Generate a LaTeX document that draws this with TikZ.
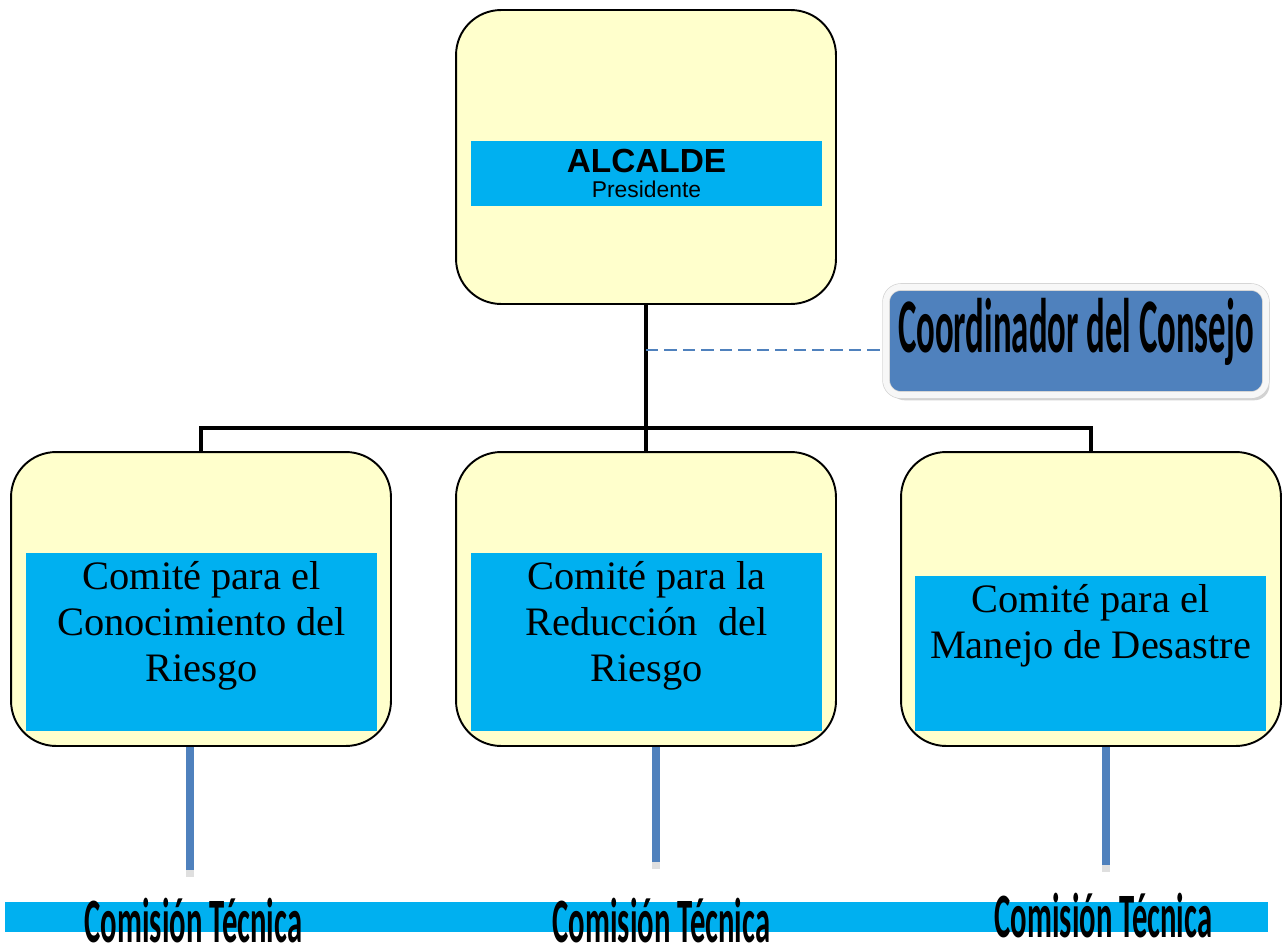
\documentclass[tikz,border=0pt]{standalone}
\usepackage{fontspec}
\setmainfont{Liberation Serif}
\newfontfamily\arialfont{Liberation Sans}
\newfontfamily\titlefont{Carlito}
\usepackage{tikz}
\usetikzlibrary{positioning,shadows}
\definecolor{paleyellow}{HTML}{FFFFCC}
\definecolor{skyblue}{HTML}{00B0F0}
\definecolor{steelblue}{HTML}{4F81BD}

\begin{document}
\begin{tikzpicture}[x=0.02cm,y=-0.02cm,
    panel/.style={rounded corners=0.9cm,draw,line width=1.1pt,fill=paleyellow,
      minimum width=7.6cm,minimum height=5.88cm},
    inbox/.style={fill=skyblue,minimum width=7.02cm,inner sep=0pt,align=center},
    tree/.style={line width=2.3pt},
    stem/.style={draw=steelblue,line width=4.5pt},
    coord/.style={rounded corners=0.3cm,fill=steelblue,draw=gray!35,double=gray!6,
      double distance=3.5pt,minimum width=7.6cm,minimum height=2.16cm,
      text height=22pt,text depth=9.4pt,
      drop shadow={shadow xshift=2pt,shadow yshift=-3pt,fill=gray!70},
      font=\titlefont\bfseries\fontsize{44}{44}\selectfont},
    comision/.style={anchor=base,inner sep=0pt,
      font=\titlefont\bfseries\fontsize{36}{36}\selectfont}]
  \useasboundingbox (0,0) rectangle (1288,950);

  % alcalde
  \node[panel] (top) at (646,157) {};
  \node[inbox,minimum height=1.3cm] (alc) at (646.5,173.5)
    {{\arialfont\bfseries\fontsize{19}{20}\selectfont ALCALDE}\\[2pt]
     {\arialfont\fontsize{13}{14}\selectfont Presidente}};

  % comites
  \node[panel] (c1) at (201,599) {};
  \node[panel] (c2) at (646,599) {};
  \node[panel] (c3) at (1091,599) {};
  \node[inbox,minimum height=3.56cm] (k1) at (201.5,642)
    {\parbox[c][3.56cm][t]{6.9cm}{\vspace*{5pt}\centering\fontsize{23}{26}\selectfont
      Comité para el\\Conocimiento del\\Riesgo}};
  \node[inbox,minimum height=3.56cm] (k2) at (646.5,642)
    {\parbox[c][3.56cm][t]{6.9cm}{\vspace*{5pt}\centering\fontsize{23}{26}\selectfont
      Comité para la\\Reducción\ \ del\\Riesgo}};
  \node[inbox,minimum height=3.1cm] (k3) at (1090.5,653.5)
    {\parbox[c][3.1cm][t]{6.9cm}{\vspace*{5pt}\centering\fontsize{23}{26}\selectfont
      Comité para el\\Manejo de Desastre}};

  % lineas
  \coordinate (bar) at (646,428);
  \draw[tree] (top) -- (c2);
  \draw[tree] (c1.north) |- (bar) -| (c3.north);

  % coordinador
  \node[coord] (cons) at (1076,341) {\scalebox{0.45}[1]{Coordinador del Consejo}};
  \coordinate (d0) at (646,350);
  \draw[steelblue,line width=1.7pt,dash pattern=on 7pt off 3.5pt] (d0) -- (d0 -| cons.west);

  % comisiones
  \coordinate (s1) at (190,870);
  \coordinate (s2) at (656,862);
  \coordinate (s3) at (1106,865);
  \foreach \i in {1,2,3} {
    \draw[stem] (s\i |- c\i.south) -- (s\i);
    \draw[stem,draw=gray!25] (s\i) -- ++(0,7);
  }
  \node[fill=skyblue,minimum width=25.26cm,minimum height=0.6cm,inner sep=0pt]
    (band) at (636.5,917) {};
  \node[comision] (t1) at (193.5,942) {\scalebox{0.485}[1]{Comisión Técnica}};
  \node[comision] (t2) at (661.5,942) {\scalebox{0.485}[1]{Comisión Técnica}};
  \node[comision] (t3) at (1103.5,937) {\scalebox{0.485}[1]{Comisión Técnica}};
\end{tikzpicture}
\end{document}
